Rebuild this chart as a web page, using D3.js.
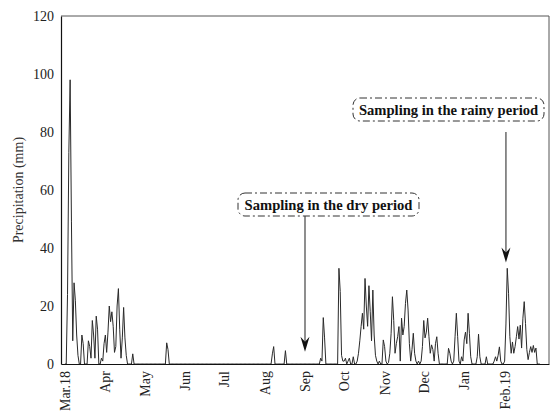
<!DOCTYPE html>
<html>
<head>
<meta charset="utf-8">
<script src="https://cdn.jsdelivr.net/npm/d3@7"></script>
<style>
  body { margin: 0; background: #fff; }
  text { font-family: "Liberation Serif", "Times New Roman", serif; }
</style>
</head>
<body>
<div class="chartContainer"></div>
<script>
// month tick labels (Mar 2018 .. Feb 2019)
const monthLabels = ['Mar.18', 'Apr', 'May', 'Jun', 'Jul', 'Aug', 'Sep', 'Oct', 'Nov', 'Dec', 'Jan', 'Feb.19'];
const yTicks = [0, 20, 40, 60, 80, 100, 120];

// daily precipitation (mm), one array per month
const mar18 = [0, 0, 24, 73, 98, 49, 8, 28, 22, 10, 3, 0, 0, 10, 7, 0, 0, 0, 8, 6, 2, 15, 10, 2, 16.5, 12, 0, 0, 2, 1, 7];
const apr18 = [10, 4, 11, 20, 14.6, 18, 13, 4, 6, 20, 26, 12, 2, 9, 19.5, 9, 3, 0, 0, 0, 0, 3.5, 0, 0, 0, 0, 0, 0, 0, 0];
const may18 = [0, 0, 0, 0, 0, 0, 0, 0, 0, 0, 0, 0, 0, 0, 0, 0, 0, 7.3, 5, 0, 0, 0, 0, 0, 0, 0, 0, 0, 0, 0, 0];
const jun18 = [0, 0, 0, 0, 0, 0, 0, 0, 0, 0, 0, 0, 0, 0, 0, 0, 0, 0, 0, 0, 0, 0, 0, 0, 0, 0, 0, 0, 0, 0];
const jul18 = [0, 0, 0, 0, 0, 0, 0, 0, 0, 0, 0, 0, 0, 0, 0, 0, 0, 0, 0, 0, 0, 0, 0, 0, 0, 0, 0, 0, 0, 0, 0];
const aug18 = [0, 0, 0, 0, 0, 0, 3.5, 6, 0, 0, 0, 0, 0, 0, 0, 0, 4.6, 0, 0, 0, 0, 0, 0, 0, 0, 0, 0, 0, 0, 0, 0];
const sep18 = [0, 0, 0, 0, 0, 0, 0, 0, 0, 0, 0, 0, 2, 1, 16, 9, 0, 0, 0, 0, 0, 0, 0, 0, 0, 0, 33, 25, 3, 1];
const oct18 = [1, 2, 0, 1, 2, 0, 0, 2.5, 0, 0, 1, 3.7, 8, 12.9, 17.5, 12, 29.5, 20, 13, 27, 18, 8, 25.5, 10, 3, 1, 0, 1, 0, 0, 8.3];
const nov18 = [6, 1, 0, 0.5, 3.7, 10.6, 23.2, 15, 3.7, 7, 9.4, 12.9, 1, 15.8, 10, 12.9, 20.9, 25.5, 18.6, 7, 1, 5, 10.6, 3.7, 1, 0, 1, 0, 1, 6];
const dec18 = [15, 9, 11, 15.8, 9.4, 3.7, 6.6, 5, 1, 7, 9.4, 3.7, 0, 0, 0, 0, 0, 0, 0, 5.4, 3.7, 1, 0, 1, 9.4, 17.5, 9.4, 1, 0, 2.5, 1];
const jan19 = [8.3, 11, 7, 17.5, 10.6, 2.5, 0, 0, 0, 0, 2.5, 10.3, 2.5, 0, 0, 0, 0, 2.5, 0, 0, 0, 0, 0, 1, 2.5, 1, 3, 5.9, 1, 0, 0];
const feb19 = [1, 13.8, 33, 24.4, 9.4, 3.7, 7.6, 3.7, 6, 9.4, 12.9, 8.6, 13.4, 5.5, 15.8, 21.5, 14, 5, 1.5, 4, 6, 4, 6.4, 4, 5.5, 0, 0, 0];

// sampling annotations: arrow date / value at the tip
const annotations = [
  { label: 'Sampling in the dry period', date: Date.UTC(2018, 8, 1), tip: 4.2, box: [238, 193, 181, 23], lineStart: 216 },
  { label: 'Sampling in the rainy period', date: Date.UTC(2019, 1, 2), tip: 35, box: [353, 98, 191, 23], lineStart: 132 }
];

window.addEventListener("load", () => {
  drawChart();
});

function buildSeries() {
  const months = [mar18, apr18, may18, jun18, jul18, aug18, sep18, oct18, nov18, dec18, jan19, feb19];
  const series = [];
  months.forEach((vals, m) => {
    vals.forEach((v, d) => {
      series.push({ date: new Date(Date.UTC(2018, 2 + m, d + 1)), value: v });
    });
  });
  return series;
}

function drawChart() {
  const margin = { top: 16, right: 3, bottom: 50, left: 61 },
    width = 552 - margin.left - margin.right,
    height = 414 - margin.top - margin.bottom;

  const x = d3.scaleUtc()
    .domain([new Date(Date.UTC(2018, 1, 26)), new Date(Date.UTC(2019, 2, 7))])
    .range([0, width]);
  const y = d3.scaleLinear().domain([0, 120]).range([height, 0]);

  const svg = d3.select(".chartContainer")
    .append("svg")
    .attr("width", width + margin.left + margin.right)
    .attr("height", height + margin.top + margin.bottom)
    .append("g")
    .attr("transform", "translate(" + margin.left + "," + margin.top + ")");

  // top / right frame
  svg.append("path")
    .attr("d", "M0,0H" + width + "V" + height)
    .attr("fill", "none")
    .attr("stroke", "#555")
    .attr("stroke-width", 1);

  const series = buildSeries();

  const line = d3.line()
    .x(d => x(d.date))
    .y(d => y(d.value));

  svg.append("path")
    .datum(series)
    .attr("fill", "none")
    .attr("stroke", "#2a2a2a")
    .attr("stroke-width", 1)
    .attr("stroke-linejoin", "miter")
    .attr("d", line);

  // axes
  const monthStarts = monthLabels.map((l, i) => new Date(Date.UTC(2018, 2 + i, 1)));
  const xAxis = d3.axisBottom(x)
    .tickValues(monthStarts)
    .tickFormat((d, i) => monthLabels[i])
    .tickSize(0);
  const yAxis = d3.axisLeft(y).tickValues(yTicks).tickSize(0).tickPadding(7);

  const gx = svg.append("g")
    .attr("class", "x axis")
    .attr("transform", "translate(0," + height + ")")
    .call(xAxis);
  gx.select(".domain").attr("stroke", "#111").attr("stroke-width", 1.2);
  gx.selectAll("text")
    .style("text-anchor", "end")
    .attr("font-size", 14)
    .attr("fill", "#222")
    .attr("x", -7)
    .attr("y", 0)
    .attr("dy", "0.33em")
    .attr("transform", "rotate(-90)");

  const gy = svg.append("g")
    .attr("class", "y axis")
    .call(yAxis);
  gy.select(".domain").attr("stroke", "#111").attr("stroke-width", 1.2);
  gy.selectAll("text")
    .attr("font-size", 14)
    .attr("fill", "#222");

  svg.append("text")
    .attr("transform", "rotate(-90)")
    .attr("x", -height / 2)
    .attr("y", -43)
    .attr("dy", "0.35em")
    .attr("text-anchor", "middle")
    .attr("font-size", 14)
    .attr("fill", "#333")
    .text("Precipitation (mm)");

  // annotations
  const ann = svg.selectAll(".annotation")
    .data(annotations)
    .enter()
    .append("g")
    .attr("class", "annotation");

  ann.append("rect")
    .attr("x", d => d.box[0] - margin.left)
    .attr("y", d => d.box[1] - margin.top)
    .attr("width", d => d.box[2])
    .attr("height", d => d.box[3])
    .attr("rx", 7)
    .attr("fill", "#fff")
    .attr("stroke", "#333")
    .attr("stroke-width", 1)
    .attr("stroke-dasharray", "7,3,2,3");

  ann.append("text")
    .attr("x", d => d.box[0] - margin.left + d.box[2] / 2)
    .attr("y", d => d.box[1] - margin.top + d.box[3] / 2)
    .attr("dy", "0.35em")
    .attr("text-anchor", "middle")
    .attr("font-size", 14.6)
    .attr("font-weight", "bold")
    .attr("fill", "#111")
    .text(d => d.label);

  ann.append("line")
    .attr("x1", d => x(new Date(d.date)))
    .attr("x2", d => x(new Date(d.date)))
    .attr("y1", d => d.lineStart - margin.top)
    .attr("y2", d => y(d.tip) - 6)
    .attr("stroke", "#444")
    .attr("stroke-width", 1.2);

  ann.append("path")
    .attr("transform", d => "translate(" + x(new Date(d.date)) + "," + y(d.tip) + ")")
    .attr("d", "M0,0L-4.5,-15L0,-10L4.5,-15Z")
    .attr("fill", "#111");
}
</script>
</body>
</html>
